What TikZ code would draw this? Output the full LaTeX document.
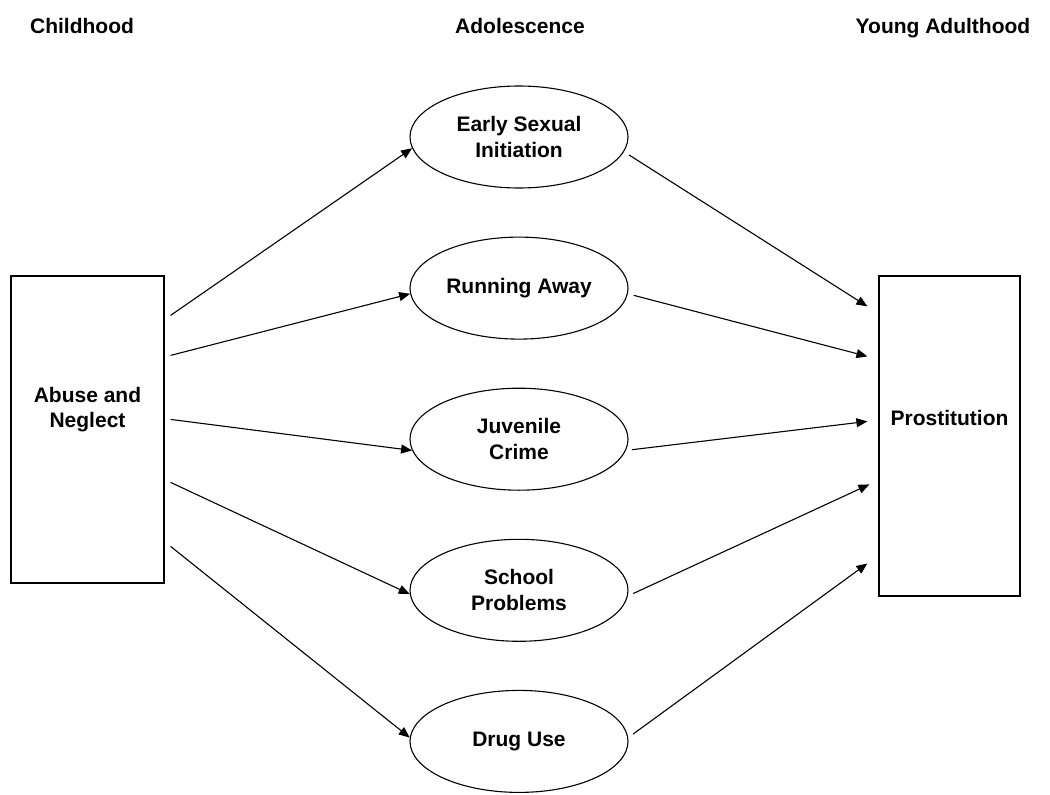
\documentclass[tikz,border=0pt]{standalone}
\usepackage{fontspec}
\setmainfont{Liberation Sans}
\usetikzlibrary{positioning,shapes.geometric,arrows.meta}
\tikzset{
  every node/.style={font=\fontsize{21}{25}\selectfont\bfseries},
  % --- nodes
  stage/.style  = {inner sep=0pt},
  pbox/.style   = {draw, line width=1.2pt, inner sep=0pt},
  txt/.style    = {align=center, inner sep=0pt},
  factor/.style = {ellipse, draw, line width=1.1pt, minimum width=218pt,
                   minimum height=102pt, inner sep=0pt, align=center,
                   font=\fontsize{21}{26}\selectfont\bfseries},
  % --- edges
  e/.style      = {-{Triangle[length=11pt,width=9pt]}, line width=1.1pt},
  eout/.style   = {e, shorten <=6pt},
}

\begin{document}
\begin{tikzpicture}[x=1pt,y=-1pt]
  \useasboundingbox (0,0) rectangle (1050,795);
  % stages
  \node[stage,anchor=base] (hchild) at (82,33.5)  {Childhood};
  \node[stage,anchor=base] (hadol)  at (520,33.5) {Adolescence};
  \node[stage,anchor=base] (hyoung) at (943,33.5) {Young Adulthood};
  % childhood and young adulthood
  \node[pbox, minimum width=153pt, minimum height=307pt] (abuse) at (87.5,429.5) {};
  \node[txt] (abusetext) at ([yshift=20pt]abuse.center) {Abuse and\\Neglect};
  \node[pbox, minimum width=141pt, minimum height=320pt] (prost) at (949.5,436) {};
  \node[txt] (prosttext) at ([yshift=18pt]prost.center) {Prostitution};
  % adolescence
  \node[factor] (early) at (519,137) {Early Sexual\\Initiation};
  \node[factor, below=48pt of early] (run)    {Running Away};
  \node[factor, below=48pt of run]   (crime)  {Juvenile\\Crime};
  \node[factor, below=48pt of crime] (school) {School\\Problems};
  \node[factor, below=48pt of school](drug)   {Drug Use};
  % abuse -> adolescence
  \draw[e] ([shift={(6,40)}]abuse.north east)  -- (early.186);
  \draw[e] ([shift={(6,80)}]abuse.north east)  -- (run.183);
  \draw[e] ([shift={(6,144)}]abuse.north east) -- (crime.186);
  \draw[e] ([shift={(6,207)}]abuse.north east) -- (school.182);
  \draw[e] ([shift={(6,271)}]abuse.north east) -- (drug.178);
  % adolescence -> prostitution
  \draw[eout] (early.-8)  -- ([shift={(-11,31)}]prost.north west);
  \draw[eout] (run.-3)    -- ([shift={(-11,81)}]prost.north west);
  \draw[eout] (crime.-6)  -- ([shift={(-11,146)}]prost.north west);
  \draw[eout] (school.-3) -- ([shift={(-9,209)}]prost.north west);
  \draw[eout] (drug.2)    -- ([shift={(-11,288)}]prost.north west);
\end{tikzpicture}
\end{document}
